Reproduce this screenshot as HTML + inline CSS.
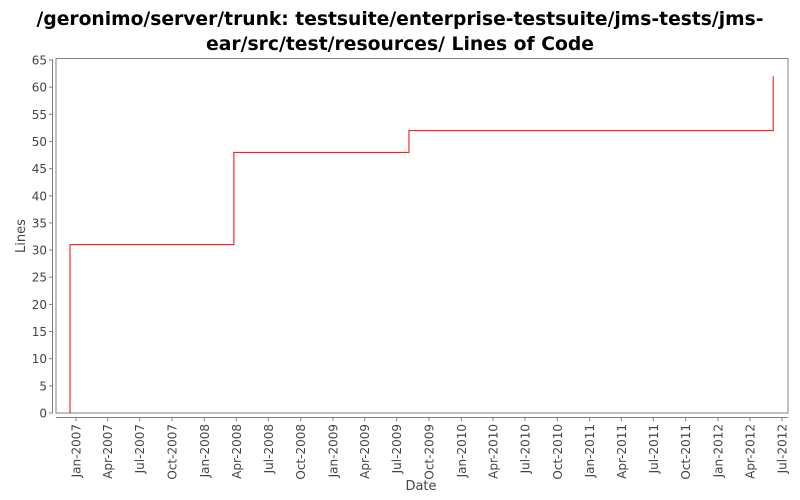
<!DOCTYPE html>
<html><head><meta charset="utf-8"><style>
body{margin:0;background:#fff}
svg{display:block;font-family:"DejaVu Sans","Liberation Sans",sans-serif}
</style></head><body>
<svg id="chart" width="800" height="500" viewBox="0 0 800 500">
<text x="400" y="25" text-anchor="middle" font-size="19" font-weight="bold" fill="#000" textLength="727" lengthAdjust="spacingAndGlyphs">/geronimo/server/trunk: testsuite/enterprise-testsuite/jms-tests/jms-</text>
<text x="400" y="50" text-anchor="middle" font-size="19" font-weight="bold" fill="#000" textLength="388" lengthAdjust="spacingAndGlyphs">ear/src/test/resources/ Lines of Code</text>
<rect x="56" y="58.5" width="732" height="354.5" fill="#fff" stroke="#808080" stroke-width="1"/>
<line x1="52.5" y1="59" x2="52.5" y2="413" stroke="#808080"/>
<line x1="56" y1="417.5" x2="788" y2="417.5" stroke="#808080"/>
<g id="yticks"></g><g id="xticks"></g><g id="series"></g>
<text x="421" y="490" text-anchor="middle" font-size="13" fill="#444">Date</text>
<text transform="translate(25,236) rotate(-90)" text-anchor="middle" font-size="13" fill="#444">Lines</text>
</svg>
<script>
const yTicks=[0,5,10,15,20,25,30,35,40,45,50,55,60,65];
const xTickLabels=["Jan-2007","Apr-2007","Jul-2007","Oct-2007","Jan-2008","Apr-2008","Jul-2008","Oct-2008","Jan-2009","Apr-2009","Jul-2009","Oct-2009","Jan-2010","Apr-2010","Jul-2010","Oct-2010","Jan-2011","Apr-2011","Jul-2011","Oct-2011","Jan-2012","Apr-2012","Jul-2012"];
const xTickDates=["2007-01-01","2007-04-01","2007-07-01","2007-10-01","2008-01-01","2008-04-01","2008-07-01","2008-10-01","2009-01-01","2009-04-01","2009-07-01","2009-10-01","2010-01-01","2010-04-01","2010-07-01","2010-10-01","2011-01-01","2011-04-01","2011-07-01","2011-10-01","2012-01-01","2012-04-01","2012-07-01"];
const dates=["2006-12-15","2008-03-25","2009-08-05","2012-06-06"];
const values=[31,48,52,62];
const NS="http://www.w3.org/2000/svg";
const t0=Date.parse("2007-01-01"),t1=Date.parse("2012-07-01");
function xs(d){return 76+(Date.parse(d)-t0)/(t1-t0)*706;}
function ys(v){return 413-v*(353/65);}
function mk(tag,attrs,parent){const e=document.createElementNS(NS,tag);for(const k in attrs)e.setAttribute(k,attrs[k]);parent.appendChild(e);return e;}
const yg=document.getElementById('yticks');
yTicks.forEach(v=>{const y=ys(v);
 const l=mk('line',{x1:49,x2:52.5,y1:y,y2:y,stroke:'#808080'},yg);
 
 
 const t=mk('text',{x:47,y:y+4.5,'text-anchor':'end','font-size':12,fill:'#444'},yg);t.textContent=v;
 
 
});
const xg=document.getElementById('xticks');
xTickDates.forEach((d,i)=>{const x=xs(d);
 const l=mk('line',{x1:x,x2:x,y1:417.5,y2:421,stroke:'#808080'},xg);
 
 
 const t=mk('text',{transform:`translate(${x+4.5},424) rotate(-90)`,'text-anchor':'end','font-size':12,fill:'#444'},xg);t.textContent=xTickLabels[i];
 
 
});
let d=`M${xs(dates[0])},${ys(0)}`;
dates.forEach((dt,i)=>{const x=xs(dt);d+=` L${x},${ys(i?values[i-1]:0)} L${x},${ys(values[i])}`;});
const p=mk('path',{d:d,fill:'none',stroke:'#ff0000','stroke-width':1},document.getElementById('series'));


</script>
</body></html>
